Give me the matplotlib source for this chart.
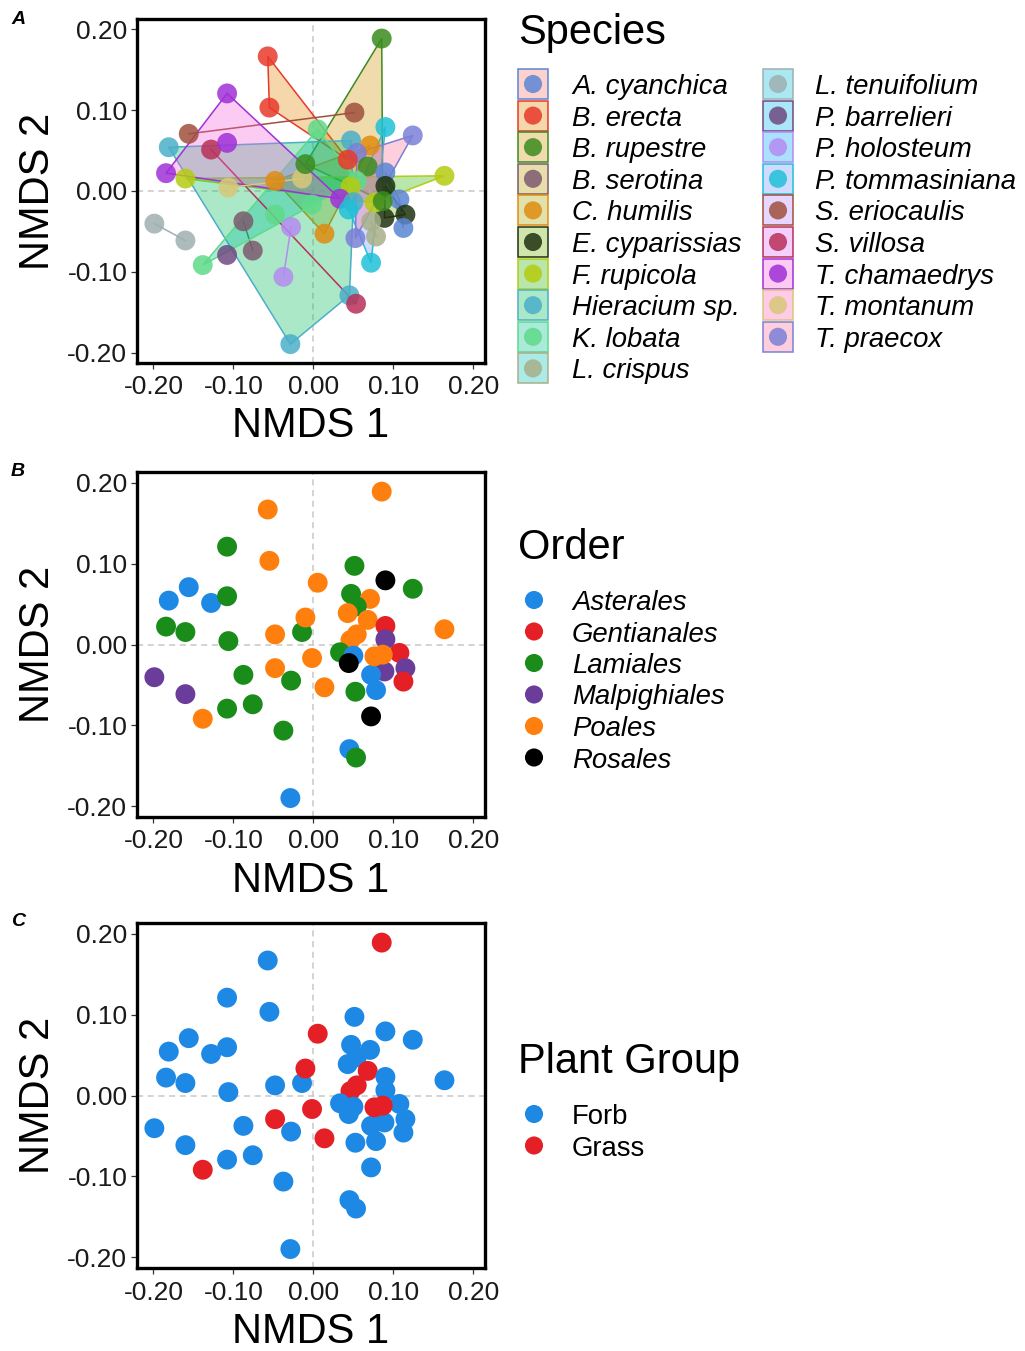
import numpy as np
import matplotlib
matplotlib.use('Agg')
import matplotlib.pyplot as plt
from matplotlib.patches import Polygon, Rectangle
from matplotlib.colors import to_rgba

plt.rcParams['font.family'] = ['Liberation Sans', 'DejaVu Sans']

# NMDS scores, one entry per sample
nmds1 = [0.0854, -0.0571, -0.1079, -0.0550, 0.0513, 0.0054, 0.0900, 0.1242, -0.1558, -0.1808,
         -0.1279, -0.1079, 0.0471, 0.0708, 0.0542, 0.0429, -0.1842, -0.1600, -0.1063, -0.0479,
         -0.0142, -0.0100, 0.0679, 0.0542, 0.0463, 0.1638, 0.0900, 0.0900, 0.0333, 0.0500,
         0.0442, 0.1075, 0.1150, 0.1125, 0.0888, 0.0721, 0.0783, 0.0525, -0.1988, -0.1600,
         -0.0875, -0.0279, -0.1079, -0.0758, -0.0375, 0.0721, 0.0450, 0.0533, -0.0288, -0.0017,
         -0.0479, 0.0763, 0.0867, 0.0138, -0.1383]
nmds2 = [0.1888, 0.1667, 0.1208, 0.1033, 0.0971, 0.0763, 0.0792, 0.0688, 0.0708, 0.0542,
         0.0513, 0.0596, 0.0625, 0.0563, 0.0471, 0.0388, 0.0221, 0.0154, 0.0042, 0.0125,
         0.0154, 0.0333, 0.0304, 0.0125, 0.0054, 0.0188, 0.0229, 0.0063, -0.0096, -0.0138,
         -0.0229, -0.0104, -0.0292, -0.0458, -0.0333, -0.0375, -0.0563, -0.0583, -0.0404, -0.0613,
         -0.0375, -0.0446, -0.0792, -0.0738, -0.1063, -0.0888, -0.1292, -0.1396, -0.1896, -0.0167,
         -0.0292, -0.0146, -0.0125, -0.0529, -0.0917]
species = ['B. rupestre', 'B. erecta', 'T. chamaedrys', 'B. erecta', 'S. eriocaulis', 'K. lobata',
           'P. tommasiniana', 'T. praecox', 'S. eriocaulis', 'Hieracium sp.', 'S. villosa',
           'T. chamaedrys', 'Hieracium sp.', 'C. humilis', 'T. praecox', 'B. erecta', 'T. chamaedrys',
           'F. rupicola', 'T. montanum', 'C. humilis', 'T. montanum', 'B. rupestre', 'B. rupestre',
           'K. lobata', 'F. rupicola', 'F. rupicola', 'A. cyanchica', 'E. cyparissias', 'T. chamaedrys',
           'Hieracium sp.', 'P. tommasiniana', 'A. cyanchica', 'E. cyparissias', 'A. cyanchica',
           'E. cyparissias', 'L. crispus', 'L. crispus', 'T. praecox', 'L. tenuifolium', 'L. tenuifolium',
           'B. serotina', 'P. holosteum', 'P. barrelieri', 'B. serotina', 'P. holosteum',
           'P. tommasiniana', 'Hieracium sp.', 'S. villosa', 'Hieracium sp.', 'K. lobata', 'K. lobata',
           'F. rupicola', 'B. rupestre', 'C. humilis', 'K. lobata']
order = ['Poales', 'Poales', 'Lamiales', 'Poales', 'Lamiales', 'Poales', 'Rosales', 'Lamiales',
         'Asterales', 'Asterales', 'Asterales', 'Lamiales', 'Lamiales', 'Poales', 'Lamiales', 'Poales',
         'Lamiales', 'Lamiales', 'Lamiales', 'Poales', 'Lamiales', 'Poales', 'Poales', 'Poales', 'Poales',
         'Poales', 'Gentianales', 'Malpighiales', 'Lamiales', 'Asterales', 'Rosales', 'Gentianales',
         'Malpighiales', 'Gentianales', 'Malpighiales', 'Asterales', 'Asterales', 'Lamiales',
         'Malpighiales', 'Malpighiales', 'Lamiales', 'Lamiales', 'Lamiales', 'Lamiales', 'Lamiales',
         'Rosales', 'Asterales', 'Lamiales', 'Asterales', 'Poales', 'Poales', 'Poales', 'Poales',
         'Poales', 'Poales']
group = ['Grass', 'Forb', 'Forb', 'Forb', 'Forb', 'Grass', 'Forb', 'Forb', 'Forb', 'Forb',
         'Forb', 'Forb', 'Forb', 'Forb', 'Forb', 'Forb', 'Forb', 'Forb', 'Forb', 'Forb',
         'Forb', 'Grass', 'Grass', 'Grass', 'Grass', 'Forb', 'Forb', 'Forb', 'Forb', 'Forb',
         'Forb', 'Forb', 'Forb', 'Forb', 'Forb', 'Forb', 'Forb', 'Forb', 'Forb', 'Forb',
         'Forb', 'Forb', 'Forb', 'Forb', 'Forb', 'Forb', 'Forb', 'Forb', 'Forb', 'Grass',
         'Grass', 'Grass', 'Grass', 'Grass', 'Grass']

species_names = ['A. cyanchica', 'B. erecta', 'B. rupestre', 'B. serotina', 'C. humilis',
                 'E. cyparissias', 'F. rupicola', 'Hieracium sp.', 'K. lobata', 'L. crispus',
                 'L. tenuifolium', 'P. barrelieri', 'P. holosteum', 'P. tommasiniana',
                 'S. eriocaulis', 'S. villosa', 'T. chamaedrys', 'T. montanum', 'T. praecox']
species_col = ['#5B86D4', '#E8392A', '#3A8C1E', '#7B5A6E', '#E08C10', '#1F3310', '#B5CC10',
               '#4AAFC8', '#5EDB8A', '#A8B088', '#9FB0B2', '#6E4A80', '#B48CF0', '#20C0D8',
               '#A0503C', '#B83058', '#A030D8', '#D8C878', '#7A80D8']
species_fill = ['#F8766D', '#E58700', '#CF9400', '#BB9D00', '#A3A500', '#72B000', '#2BB600',
                '#00BC59', '#00C094', '#00C0B5', '#00BCD8', '#00B4EF', '#00A6FF', '#6F94FF',
                '#B983FF', '#E06EF6', '#F763E0', '#FF62BC', '#FD6D98']

order_names = ['Asterales', 'Gentianales', 'Lamiales', 'Malpighiales', 'Poales', 'Rosales']
order_col = ['#1E88E5', '#E41F26', '#1A8C1A', '#6A3D9A', '#FF7F0E', '#000000']
group_names = ['Forb', 'Grass']
group_col = ['#1E88E5', '#E41F26']

ticks = [-0.2, -0.1, 0.0, 0.1, 0.2]
tick_labels = ['-0.20', '-0.10', '0.00', '0.10', '0.20']


def convex_hull(pts):
    pts = sorted(set(pts))
    if len(pts) < 3:
        return pts

    def cross(o, a, b):
        return (a[0] - o[0]) * (b[1] - o[1]) - (a[1] - o[1]) * (b[0] - o[0])

    lower, upper = [], []
    for p in pts:
        while len(lower) >= 2 and cross(lower[-2], lower[-1], p) <= 0:
            lower.pop()
        lower.append(p)
    for p in reversed(pts):
        while len(upper) >= 2 and cross(upper[-2], upper[-1], p) <= 0:
            upper.pop()
        upper.append(p)
    return lower[:-1] + upper[:-1]


W, H = 1025, 1351
fig = plt.figure(figsize=(W / 100, H / 100), dpi=100)


def px_axes(left, top, right, bottom):
    return fig.add_axes([left / W, 1 - bottom / H, (right - left) / W, (bottom - top) / H])


def setup(ax):
    ax.set_xlim(-0.2205, 0.2145)
    ax.set_ylim(-0.213, 0.213)
    ax.axhline(0, color='#c8c8c8', ls=(0, (4, 3)), lw=1.1, zorder=0)
    ax.axvline(0, color='#c8c8c8', ls=(0, (4, 3)), lw=1.1, zorder=0)
    ax.set_xticks(ticks)
    ax.set_xticklabels(tick_labels)
    ax.set_yticks(ticks)
    ax.set_yticklabels(tick_labels)
    for s in ax.spines.values():
        s.set_linewidth(2.4)
        s.set_zorder(5)
    ax.tick_params(axis='both', length=4, width=0.9, color='#333333', labelsize=19,
                   labelcolor='#1a1a1a')
    ax.tick_params(axis='x', pad=5)
    ax.tick_params(axis='y', pad=3)
    ax.set_xlabel('NMDS 1', fontsize=30, va='baseline')
    ax.xaxis.set_label_coords(0.5, -0.216)
    ax.set_ylabel('NMDS 2', fontsize=30, va='bottom')
    ax.yaxis.set_label_coords(-0.226, 0.5)


axA = px_axes(137, 19, 485, 363)
axB = px_axes(137, 472, 485, 817)
axC = px_axes(137, 923, 485, 1268)
for ax in (axA, axB, axC):
    setup(ax)

x = np.array(nmds1)
y = np.array(nmds2)

# A: species with convex hulls
for k, sp in enumerate(species_names):
    idx = [i for i, s in enumerate(species) if s == sp]
    pts = [(x[i], y[i]) for i in idx]
    hull = convex_hull(pts)
    if len(hull) >= 3:
        axA.add_patch(Polygon(hull, closed=True, facecolor=to_rgba(species_fill[k], 0.33),
                              edgecolor=species_col[k], lw=1.1, zorder=1))
    elif len(hull) == 2:
        axA.plot([hull[0][0], hull[1][0]], [hull[0][1], hull[1][1]], color=species_col[k],
                 lw=1.1, zorder=1)
sp_colors = [species_col[species_names.index(s)] for s in species]
axA.scatter(x, y, s=205, c=sp_colors, alpha=0.85, edgecolors='none', zorder=3)

# B: order
axB.scatter(x, y, s=205, c=[order_col[order_names.index(o)] for o in order],
            edgecolors='none', zorder=3)

# C: plant group
axC.scatter(x, y, s=205, c=[group_col[group_names.index(g)] for g in group],
            edgecolors='none', zorder=3)

# overlay in pixel coordinates for legends and panel letters
ov = fig.add_axes([0, 0, 1, 1])
ov.set_xlim(0, W)
ov.set_ylim(H, 0)
ov.axis('off')

for letter, yy in (('A', 19), ('B', 472), ('C', 922)):
    ov.text(11, yy, letter, fontsize=14, fontweight='bold', fontstyle='italic', va='center')

# species legend
ov.text(518, 44, 'Species', fontsize=30, va='baseline')
row0, dy = 84, 31.6
for k, sp in enumerate(species_names):
    col, r = divmod(k, 10)
    bx = 518 if col == 0 else 763
    tx = 572 if col == 0 else 815
    yc = row0 + r * dy
    ov.add_patch(Rectangle((bx, yc - 15), 30, 30, facecolor=to_rgba(species_fill[k], 0.33),
                           edgecolor=species_col[k], lw=1.1))
    ov.scatter([bx + 15], [yc], s=170, color=species_col[k], alpha=0.85, edgecolors='none')
    ov.text(tx, yc + 10, sp, fontsize=19.8, fontstyle='italic', va='baseline')

# order legend
ov.text(518, 559, 'Order', fontsize=30, va='baseline')
for k, o in enumerate(order_names):
    yc = 600 + k * 31.5
    ov.scatter([534], [yc], s=170, color=order_col[k], edgecolors='none')
    ov.text(572, yc + 10, o, fontsize=19.8, fontstyle='italic', va='baseline')

# plant group legend
ov.text(518, 1073, 'Plant Group', fontsize=30, va='baseline')
for k, g in enumerate(group_names):
    yc = 1114 + k * 31.5
    ov.scatter([534], [yc], s=170, color=group_col[k], edgecolors='none')
    ov.text(572, yc + 10, g, fontsize=19.8, va='baseline')

fig.savefig('out.png', dpi=100)
